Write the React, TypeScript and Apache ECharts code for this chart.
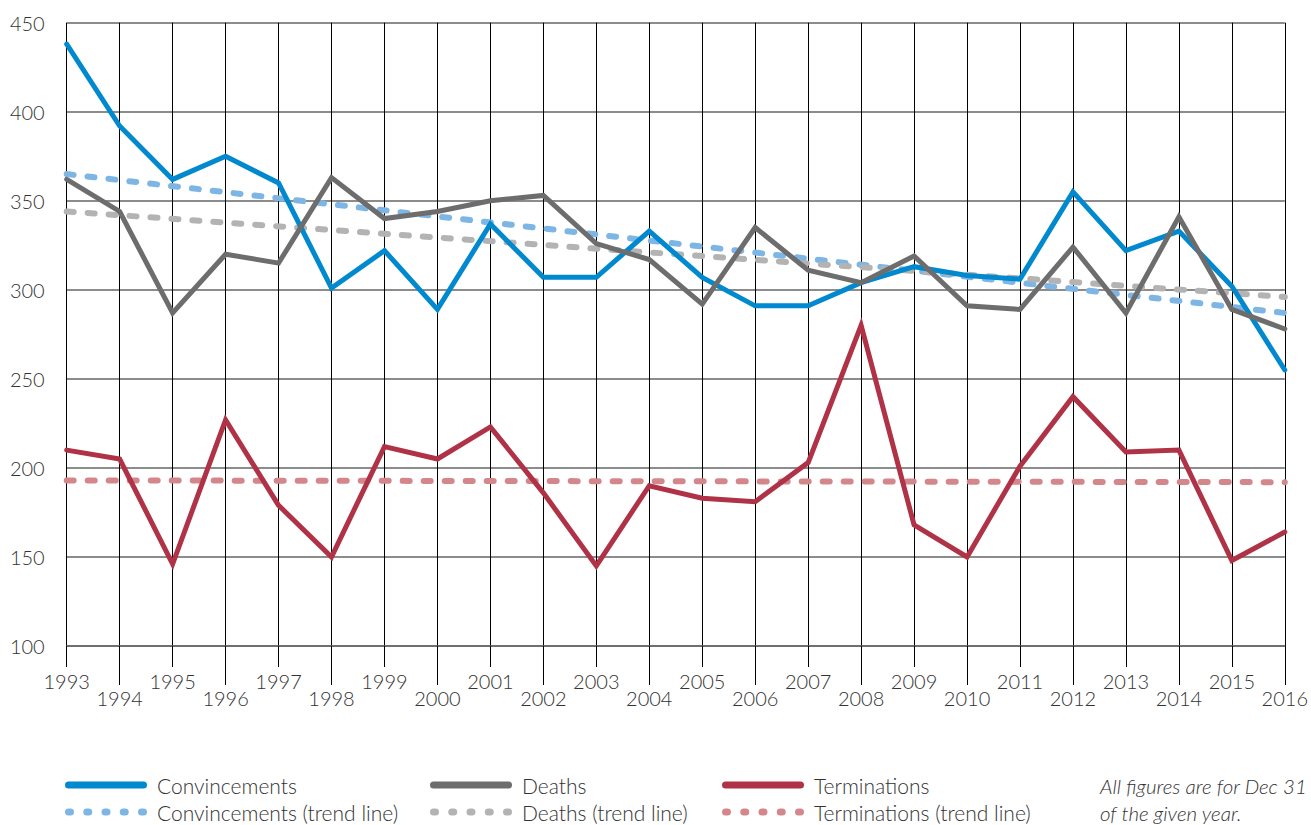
import React, { useEffect, useRef } from "react";
import * as echarts from "echarts";

const years = [
  "1993", "1994", "1995", "1996", "1997", "1998", "1999", "2000",
  "2001", "2002", "2003", "2004", "2005", "2006", "2007", "2008",
  "2009", "2010", "2011", "2012", "2013", "2014", "2015", "2016",
];
const convincements = [438, 392, 362, 375, 360, 301, 322, 289, 337, 307, 307, 333, 307, 291, 291, 304, 313, 308, 306, 355, 322, 333, 302, 255];
const deaths = [362, 344, 287, 320, 315, 363, 340, 344, 350, 353, 326, 317, 292, 335, 311, 304, 319, 291, 289, 324, 287, 341, 289, 278];
const terminations = [210, 205, 146, 227, 179, 150, 212, 205, 223, 186, 145, 190, 183, 181, 203, 280, 168, 150, 201, 240, 209, 210, 148, 164];

const trendYears = ["1993", "2016"];
const convincementsTrend = [365, 287];
const deathsTrend = [344, 296];
const terminationsTrend = [193, 192];

const yMin = 100;
const yMax = 450;
const yStep = 50;

const names = {
  conv: "Convincements",
  convT: "Convincements (trend line)",
  death: "Deaths",
  deathT: "Deaths (trend line)",
  term: "Terminations",
  termT: "Terminations (trend line)",
};
const noteLines = ["All figures are for Dec 31", "of the given year."];

const C = {
  conv: "#0089CF",
  convT: "#7DB5E5",
  death: "#6D6D6D",
  deathT: "#B3B3B3",
  term: "#B03247",
  termT: "#D4878B",
};

const FONT = "Lato, 'Open Sans', sans-serif";

function pill(c: number) {
  return `M${c - 1},0 H${c + 1} A3.5,3.5 0 0 1 ${c + 1},7 H${c - 1} A3.5,3.5 0 0 1 ${c - 1},0 Z `;
}
const solidIcon = "path://M3.5,0 H78.5 A3.5,3.5 0 0 1 78.5,7 H3.5 A3.5,3.5 0 0 1 3.5,0 Z";
const dotIcon = "path://" + [4.5, 22.75, 41, 59.25, 77.5].map(pill).join("");

export default function App() {
  const ref = useRef<HTMLDivElement>(null);
  useEffect(() => {
    if (!ref.current) return;
    const chart = echarts.init(ref.current, undefined, { renderer: "svg" });
    const solid = (name: string, data: number[], color: string) => ({
      name,
      type: "line",
      xAxisIndex: 0,
      data,
      symbol: "none",
      lineStyle: { color, width: 5, cap: "round", join: "miter" },
      itemStyle: { color },
      z: 3,
    });
    const trend = (name: string, vals: number[], color: string) => ({
      name,
      type: "line",
      xAxisIndex: 0,
      data: trendYears.map((y, i) => [y, vals[i]]),
      symbol: "none",
      lineStyle: { color, width: 6, type: [7, 14], cap: "round" },
      itemStyle: { color },
      z: 2,
    });
    const legendCol = (left: number, a: string, b: string) => ({
      orient: "vertical",
      left,
      top: 769,
      height: 56,
      itemWidth: 82,
      itemHeight: 7,
      itemGap: 5,
      selectedMode: false,
      textStyle: {
        fontFamily: FONT,
        fontSize: 21,
        fontWeight: 300,
        color: "#333",
        lineHeight: 22,
        padding: [0, 0, 0, 5],
      },
      data: [
        { name: a, icon: solidIcon },
        { name: b, icon: dotIcon },
      ],
    });
    const labelStyle = { fontFamily: FONT, fontSize: 20, fontWeight: 300, color: "#333" };
    chart.setOption({
      animation: false,
      grid: { left: 66.7, right: 25.3, top: 22.7, bottom: 179 },
      xAxis: [
        {
          type: "category",
          data: years,
          boundaryGap: false,
          position: "bottom",
          axisLine: { show: true, lineStyle: { color: "#666", width: 1.5 } },
          axisTick: {
            show: true,
            interval: (i: number) => i % 2 === 0,
            length: 21,
            lineStyle: { color: "#000", width: 1 },
          },
          axisLabel: {
            interval: (i: number) => i % 2 === 0,
            margin: 25,
            ...labelStyle,
          },
          splitLine: { show: true, interval: 0, lineStyle: { color: "#000", width: 1 } },
        },
        {
          type: "category",
          data: years,
          boundaryGap: false,
          position: "bottom",
          axisLine: { show: false },
          axisTick: {
            show: true,
            interval: (i: number) => i % 2 === 1,
            length: 39,
            lineStyle: { color: "#000", width: 1 },
          },
          axisLabel: {
            interval: (i: number) => i % 2 === 1,
            margin: 42,
            ...labelStyle,
          },
          splitLine: { show: false },
        },
      ],
      yAxis: {
        type: "value",
        min: yMin,
        max: yMax,
        interval: yStep,
        axisLine: { show: false },
        axisTick: { show: false },
        axisLabel: { margin: 22, ...labelStyle },
        splitLine: { show: true, lineStyle: { color: "#666", width: 1.5 } },
      },
      legend: [
        legendCol(60, names.conv, names.convT),
        legendCol(425, names.death, names.deathT),
        legendCol(717, names.term, names.termT),
      ],
      graphic: [
        {
          type: "text",
          left: 1100,
          top: 772,
          style: {
            text: noteLines.join("\n"),
            font: `italic 300 20.5px ${FONT}`,
            fill: "#333",
            lineHeight: 27,
          },
        },
      ],
      series: [
        trend(names.convT, convincementsTrend, C.convT),
        trend(names.deathT, deathsTrend, C.deathT),
        trend(names.termT, terminationsTrend, C.termT),
        solid(names.conv, convincements, C.conv),
        solid(names.death, deaths, C.death),
        solid(names.term, terminations, C.term),
      ],
    });
    return () => chart.dispose();
  }, []);
  return <div ref={ref} style={{ width: 1311, height: 825, position: "absolute", left: 0, top: 0 }} />;
}
